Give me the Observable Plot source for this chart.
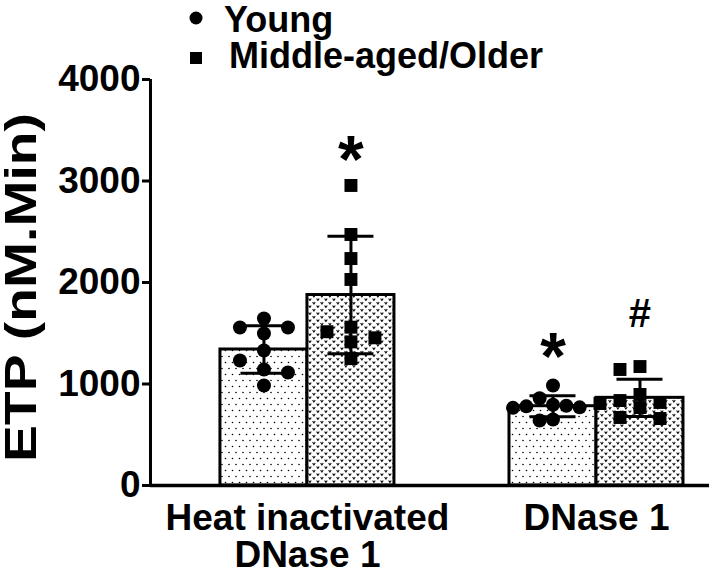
<!DOCTYPE html>
<html>
<head>
<meta charset="utf-8">
<script src="https://cdn.jsdelivr.net/npm/d3@7"></script>
<script src="https://cdn.jsdelivr.net/npm/@observablehq/plot@0.6"></script>
<style>
  body { margin: 0; background: #fff; }
  #chart { position: relative; width: 709px; height: 575px; }
  #legend { position: absolute; left: 0; top: 0; }
  #chart svg g[aria-label="y-axis tick"] path { stroke-width: 3px; }
  #chart svg g[aria-label="y-axis"] .tick line { stroke-width: 3px; }
</style>
</head>
<body>
<svg width="0" height="0" style="position:absolute">
  <defs>
    <pattern id="dotsPat" width="7" height="12" patternUnits="userSpaceOnUse">
      <rect width="7" height="12" fill="#fff"/>
      <circle cx="1.5" cy="2.5" r="0.8" fill="#000"/>
      <circle cx="5" cy="8.5" r="0.8" fill="#000"/>
    </pattern>
    <pattern id="heartPat" width="8" height="7" patternUnits="userSpaceOnUse">
      <rect width="8" height="7" fill="#fff"/>
      <path d="M0.6,1 L1.9,3 L3.2,1 M4.6,4.5 L5.9,6.5 L7.2,4.5" stroke="#111" stroke-width="1.1" fill="none"/>
    </pattern>
  </defs>
</svg>
<div id="chart"></div>
<script>
// ---- data ----
const groups = ["Heat inactivated\nDNase 1", "DNase 1"];
const ageGroups = ["Young", "Middle-aged/Older"];
const heatYoung  = [1645, 1557, 1557, 1498, 1330, 1232, 1143, 1113, 985];
const heatOlder  = [2956, 2473, 2236, 2030, 1560, 1515, 1455, 1415, 1250];
const dnaseYoung = [985, 860, 795, 785, 780, 770, 765, 650, 640];
const dnaseOlder = [1172, 1143, 897, 837, 818, 808, 768, 670, 660];
const yTicks = [0, 1000, 2000, 3000, 4000];
const yTitle = "ETP (nM.Min)";
const annotationLabels = ["*", "*", "#"];
const annotationGroup = [0, 1, 1];
const annotationAge = [1, 0, 1];
const annotationLevel = [3450, 1510, 1840];

// ---- layout constants ----
const W = 709, H = 575, mL = 150, mR = 0, mT = 79, mB = 90;
const xDomain = [-0.543, 1.391];
const pxX = (W - mL - mR) / (xDomain[1] - xDomain[0]);
const pxY = (H - mT - mB) / 4000;
const barW = 87 / pxX;
const capHalf = 23 / pxX;

const seriesValues = [[heatYoung, heatOlder], [dnaseYoung, dnaseOlder]];

function slotsFor(values) {
  const order = values.map((v, i) => i).sort((a, b) => values[b] - values[a]);
  const placed = [], slots = new Array(values.length);
  for (const i of order) {
    for (const s of [0, -1, 1, -2, 2, -3, 3, -4, 4]) {
      if (!placed.some(p => p.slot === s && Math.abs(p.v - values[i]) * pxY < 13)) {
        slots[i] = s; placed.push({v: values[i], slot: s}); break;
      }
    }
  }
  return slots;
}

const bars = [], points = [];
groups.forEach((g, gi) => {
  ageGroups.forEach((a, ai) => {
    const vals = seriesValues[gi][ai];
    const mean = d3.mean(vals), sd = d3.deviation(vals);
    const x1 = ai === 0 ? gi - barW : gi;
    const cx = x1 + barW / 2;
    bars.push({group: g, age: ai, x1, x2: x1 + barW, cx, mean, lo: mean - sd, hi: mean + sd});
    const slots = slotsFor(vals);
    const maxSlot = Math.max(1, d3.max(slots, Math.abs));
    const step = Math.min(24, 40 / maxSlot) / pxX;
    vals.forEach((v, i) => points.push({age: ai, x: cx + slots[i] * step, y: v}));
  });
});
const annotations = annotationLabels.map((t, i) => ({
  text: t,
  x: bars.find(b => b.group === groups[annotationGroup[i]] && b.age === annotationAge[i]).cx,
  y: annotationLevel[i],
  size: t === "#" ? 40 : 66
}));

const chart = Plot.plot({
  width: W, height: H,
  marginLeft: mL, marginRight: mR, marginTop: mT, marginBottom: mB,
  style: {fontFamily: "'Liberation Sans', Arial, sans-serif", fontWeight: "bold", fontSize: "37px", color: "#000", background: "#fff", overflow: "visible"},
  x: {domain: xDomain, ticks: [0, 1], tickFormat: i => groups[i], tickSize: 0, tickPadding: 18, label: null},
  y: {domain: [0, 4000], ticks: yTicks, tickFormat: d => String(d), tickSize: 8, tickPadding: 2, label: null},
  marks: [
    Plot.rectY(bars.filter(b => b.age === 0), {x1: "x1", x2: "x2", y1: 0, y2: "mean", fill: "url(#dotsPat)", stroke: "#000", strokeWidth: 3}),
    Plot.rectY(bars.filter(b => b.age === 1), {x1: "x1", x2: "x2", y1: 0, y2: "mean", fill: "url(#heartPat)", stroke: "#000", strokeWidth: 3}),
    Plot.ruleX(bars, {x: "cx", y1: "lo", y2: "hi", stroke: "#000", strokeWidth: 3}),
    Plot.ruleY(bars, {y: "hi", x1: d => d.cx - capHalf, x2: d => d.cx + capHalf, stroke: "#000", strokeWidth: 3}),
    Plot.ruleY(bars, {y: "lo", x1: d => d.cx - capHalf, x2: d => d.cx + capHalf, stroke: "#000", strokeWidth: 3}),
    Plot.dot(points.filter(p => p.age === 0), {x: "x", y: "y", r: 7, fill: "#000", stroke: "none", symbol: "circle"}),
    Plot.dot(points.filter(p => p.age === 1), {x: "x", y: "y", r: 7.3, fill: "#000", stroke: "none", symbol: "square"}),
    Plot.ruleY([0], {stroke: "#000", strokeWidth: 3.5}),
    Plot.ruleX([xDomain[0]], {y1: 0, y2: 4000, stroke: "#000", strokeWidth: 3}),
    Plot.text(annotations, {x: "x", y: "y", text: "text", fontSize: "size", lineAnchor: "top", fill: "#000"}),
    Plot.text([yTitle], {text: d => d, frameAnchor: "left", textAnchor: "middle", lineAnchor: "middle", rotate: -90, dx: -129, dy: 5, fontSize: 44, fill: "#000", className: "ytitle"})
  ]
});
document.getElementById("chart").appendChild(chart);
d3.select(chart).selectAll(".ytitle text").attr("textLength", 349).attr("lengthAdjust", "spacingAndGlyphs");

// ---- legend ----
const leg = d3.select("#chart").append("svg").attr("id", "legend").attr("width", 709).attr("height", 80);
leg.append("circle").attr("cx", 196).attr("cy", 18).attr("r", 6.5).attr("fill", "#000");
leg.append("rect").attr("x", 190).attr("y", 52).attr("width", 12).attr("height", 12).attr("fill", "#000");
const lt = leg.append("g").attr("font-family", "'Liberation Sans', Arial, sans-serif").attr("font-weight", "bold").attr("font-size", 36);
lt.append("text").attr("x", 224).attr("y", 32).text(ageGroups[0]);
lt.append("text").attr("x", 229).attr("y", 68).text(ageGroups[1]);
</script>
</body>
</html>
